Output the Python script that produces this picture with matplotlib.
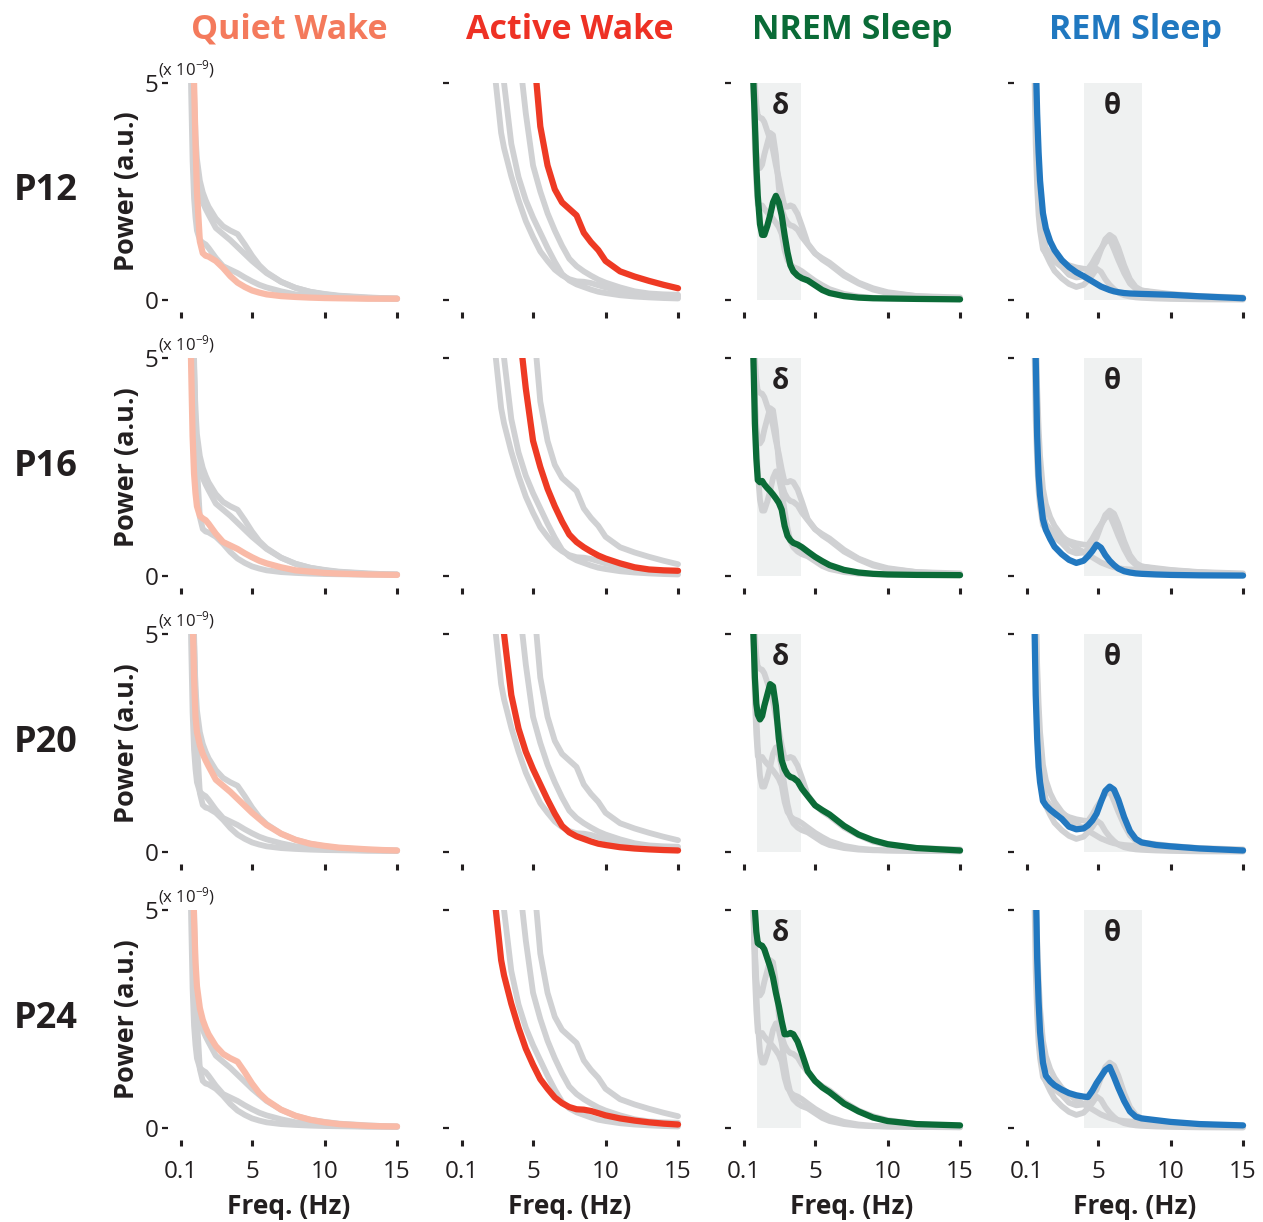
import matplotlib
matplotlib.use('Agg')
import matplotlib.pyplot as plt

plt.rcParams['font.family'] = ['Open Sans', 'DejaVu Sans']
plt.rcParams['mathtext.default'] = 'regular'

# ── data (power, x 10^-9 a.u.) ───────────────────────────────────────────────
ages = ['P12', 'P16', 'P20', 'P24']
states = ['Quiet Wake', 'Active Wake', 'NREM Sleep', 'REM Sleep']
xticks = [0.1, 5, 10, 15]
xticklabels = ['0.1', '5', '10', '15']

freq_qw = [0.7, 0.8, 0.9, 1.0, 1.1, 1.2, 1.4, 1.6, 1.8, 2.0, 2.5, 3.0, 3.5, 4.0,
           4.5, 5.0, 5.5, 6.0, 7.0, 8.0, 9.0, 10, 11, 12, 13, 14, 15]
qw_p12 = [9.0, 7.5, 6.2, 5.0, 3.6, 2.5, 1.35, 1.08, 1.02, 1.0, 0.9, 0.74, 0.55, 0.4,
          0.3, 0.22, 0.17, 0.13, 0.09, 0.07, 0.055, 0.045, 0.04, 0.035, 0.03, 0.03, 0.03]
qw_p16 = [7.0, 4.8, 3.2, 2.35, 1.9, 1.6, 1.38, 1.32, 1.28, 1.2, 0.97, 0.78, 0.7, 0.62,
          0.52, 0.43, 0.35, 0.29, 0.2, 0.13, 0.1, 0.07, 0.055, 0.045, 0.035, 0.03, 0.025]
qw_p20 = [9.0, 7.0, 5.5, 4.0, 3.1, 2.75, 2.45, 2.25, 2.1, 1.97, 1.66, 1.52, 1.38, 1.22,
          1.06, 0.9, 0.76, 0.62, 0.42, 0.28, 0.19, 0.14, 0.1, 0.08, 0.06, 0.045, 0.035]
qw_p24 = [9.5, 8.0, 6.2, 4.8, 3.8, 3.25, 2.75, 2.48, 2.3, 2.15, 1.88, 1.7, 1.6, 1.52,
          1.28, 1.02, 0.8, 0.64, 0.42, 0.28, 0.19, 0.13, 0.09, 0.07, 0.05, 0.04, 0.035]

freq_aw = [2.0, 2.4, 2.8, 3.0, 3.5, 4.0, 4.5, 5.0, 5.5, 6.0, 6.5, 7.0, 7.5, 8.0,
           8.5, 9.0, 9.5, 10, 11, 12, 13, 14, 15]
aw_p12 = [12, 11, 10, 9.5, 8.5, 7.5, 6.6, 5.9, 4.0, 3.1, 2.55, 2.25, 2.1, 1.95,
          1.55, 1.33, 1.15, 0.9, 0.66, 0.54, 0.44, 0.35, 0.27]
aw_p16 = [12, 11, 10, 9.0, 7.5, 5.8, 4.3, 3.1, 2.5, 2.0, 1.6, 1.25, 0.95, 0.78,
          0.66, 0.56, 0.47, 0.4, 0.29, 0.2, 0.15, 0.13, 0.12]
aw_p20 = [11, 8.5, 6.0, 5.0, 3.6, 2.83, 2.3, 1.9, 1.55, 1.2, 0.88, 0.6, 0.45, 0.36,
          0.3, 0.24, 0.19, 0.16, 0.11, 0.08, 0.06, 0.045, 0.035]
aw_p24 = [7.5, 5.1, 3.85, 3.5, 2.85, 2.3, 1.82, 1.45, 1.12, 0.9, 0.7, 0.57, 0.48, 0.43,
          0.42, 0.39, 0.34, 0.29, 0.22, 0.17, 0.13, 0.1, 0.08]

freq_nrem = [0.6, 0.75, 0.85, 0.95, 1.05, 1.2, 1.35, 1.5, 1.7, 1.9, 2.1, 2.3, 2.5, 2.7,
             2.9, 3.1, 3.3, 3.5, 3.8, 4.1, 4.5, 5.0, 5.5, 6.0, 7.0, 8.0, 9.0, 10, 12, 15]
nrem_p12 = [7.0, 5.0, 4.1, 3.1, 2.4, 1.75, 1.5, 1.5, 1.7, 1.95, 2.25, 2.4, 2.25, 1.95,
            1.5, 1.1, 0.8, 0.66, 0.56, 0.5, 0.45, 0.34, 0.23, 0.16, 0.09, 0.055, 0.04, 0.035, 0.025, 0.015]
nrem_p16 = [7.0, 5.0, 3.5, 2.7, 2.2, 2.15, 2.18, 2.1, 2.02, 1.95, 1.87, 1.78, 1.68, 1.52,
            1.15, 0.92, 0.82, 0.76, 0.72, 0.66, 0.56, 0.44, 0.34, 0.25, 0.14, 0.08, 0.05, 0.035, 0.025, 0.02]
nrem_p20 = [7.0, 5.0, 4.0, 3.4, 3.15, 3.04, 3.12, 3.35, 3.6, 3.85, 3.8, 3.35, 2.6, 2.1,
            1.9, 1.78, 1.72, 1.7, 1.62, 1.45, 1.28, 1.07, 0.96, 0.86, 0.6, 0.4, 0.27, 0.18, 0.09, 0.035]
nrem_p24 = [8.0, 6.0, 5.0, 4.5, 4.24, 4.2, 4.18, 4.1, 3.9, 3.7, 3.45, 3.1, 2.8, 2.45,
            2.15, 2.15, 2.18, 2.15, 1.98, 1.7, 1.3, 1.08, 0.93, 0.82, 0.56, 0.38, 0.24, 0.16, 0.09, 0.06]

freq_rem = [0.55, 0.7, 0.8, 0.9, 1.0, 1.2, 1.4, 1.7, 2.0, 2.5, 3.0, 3.5, 4.0, 4.3, 4.6,
            4.9, 5.2, 5.5, 5.8, 6.1, 6.4, 6.8, 7.2, 7.6, 8.0, 9.0, 10, 12, 15]
rem_p12 = [8.0, 5.6, 4.3, 3.4, 2.75, 2.0, 1.65, 1.35, 1.15, 0.92, 0.76, 0.64, 0.55, 0.49, 0.43,
           0.37, 0.31, 0.27, 0.23, 0.2, 0.18, 0.16, 0.15, 0.145, 0.14, 0.13, 0.12, 0.085, 0.04]
rem_p16 = [8.0, 5.0, 3.2, 2.3, 1.85, 1.3, 1.06, 0.85, 0.67, 0.5, 0.37, 0.3, 0.35, 0.45, 0.57,
           0.72, 0.65, 0.48, 0.35, 0.25, 0.17, 0.11, 0.08, 0.06, 0.05, 0.035, 0.025, 0.015, 0.01]
rem_p20 = [6.5, 3.6, 2.6, 1.95, 1.6, 1.17, 1.07, 0.97, 0.89, 0.76, 0.58, 0.52, 0.54, 0.61, 0.72,
           0.88, 1.15, 1.4, 1.5, 1.43, 1.2, 0.8, 0.48, 0.3, 0.22, 0.16, 0.13, 0.08, 0.035]
rem_p24 = [9.0, 5.8, 3.9, 2.9, 2.2, 1.5, 1.2, 1.07, 0.98, 0.88, 0.8, 0.75, 0.72, 0.71, 0.85,
           1.03, 1.18, 1.33, 1.4, 1.17, 0.92, 0.62, 0.38, 0.26, 0.22, 0.18, 0.14, 0.09, 0.06]

freqs = [freq_qw, freq_aw, freq_nrem, freq_rem]
curves = [[qw_p12, qw_p16, qw_p20, qw_p24],
          [aw_p12, aw_p16, aw_p20, aw_p24],
          [nrem_p12, nrem_p16, nrem_p20, nrem_p24],
          [rem_p12, rem_p16, rem_p20, rem_p24]]
bands = [None, None, (1, 4), (4, 8)]
band_names = [None, None, 'δ', 'θ']

# ── style ────────────────────────────────────────────────────────────────────
TITLE_COLORS = ['#F47A5C', '#EE3124', '#0A6B37', '#2078C0']
LINE_COLORS = ['#F9BAA7', '#EE3A24', '#0B6B37', '#2278C0']
GRAY = '#D0D1D3'
BAND = '#EFF1F1'
INK = '#231F20'

W, H = 1263, 1222
X01 = [181, 462, 744, 1027]        # pixel of x = 0.1 per column
PXHZ = 14.5                         # pixels per Hz
Y5 = [83, 358, 634, 910]            # pixel of y = 5 per row
Y0 = [300, 576, 852, 1128]          # pixel of y = 0 per row
XL, XR = -0.3, 15.4
YB, YT = -0.15, 5.0

fig = plt.figure(figsize=(W / 100, H / 100), dpi=100)

for i, age in enumerate(ages):
    pxu = (Y0[i] - Y5[i]) / 5.0
    for j, state in enumerate(states):
        left = X01[j] + (XL - 0.1) * PXHZ
        right = X01[j] + (XR - 0.1) * PXHZ
        top = Y5[i] - (YT - 5) * pxu
        bottom = Y0[i] - YB * pxu
        ax = fig.add_axes([left / W, 1 - bottom / H, (right - left) / W, (bottom - top) / H])
        ax.set_facecolor('none')

        if bands[j]:
            ax.fill_between(bands[j], 0, 5, color=BAND, lw=0, zorder=0)
            ax.text(sum(bands[j]) / 2 + (0.1 if j == 2 else 0.0), 4.45, band_names[j],
                    ha='center', va='center', fontsize=20, fontweight='bold', color=INK)

        for k in range(4):
            if k == i:
                continue
            ax.plot(freqs[j], curves[j][k], color=GRAY, lw=4.2, zorder=2,
                    solid_capstyle='round', solid_joinstyle='round')
        ax.plot(freqs[j], curves[j][i], color=LINE_COLORS[j], lw=4.5, zorder=3,
                solid_capstyle='round', solid_joinstyle='round')

        ax.set_xlim(XL, XR)
        ax.set_ylim(YB, YT)
        ax.set_xticks(xticks)
        ax.set_yticks([0, 5])
        for s in ax.spines.values():
            s.set_color('none')
        ax.spines['left'].set_position(('outward', 5))
        ax.spines['bottom'].set_position(('outward', 4))
        ax.tick_params(axis='x', length=4, width=2.2, color=INK, pad=10,
                       labelsize=17.5, labelcolor=INK)
        ax.tick_params(axis='y', length=4, width=1.6, color=INK, pad=3,
                       labelsize=17.5, labelcolor=INK)
        ax.set_xticklabels(xticklabels if i == 3 else [])
        ax.set_yticklabels(['0', '5'] if j == 0 else [])

    yc = (Y5[i] + Y0[i]) / 2
    fig.text(46 / W, 1 - yc / H, age, ha='center', va='center',
             fontsize=26, fontweight='bold', color=INK)
    fig.text(127 / W, 1 - yc / H, 'Power (a.u.)', ha='center', va='center',
             rotation=90, fontsize=19.5, fontweight='bold', color=INK)
    fig.text(158 / W, 1 - (Y5[i] - 14) / H, '(x 10$^{-9}$)', ha='left', va='center',
             fontsize=12, color=INK)

for j, state in enumerate(states):
    xc = X01[j] + 7.45 * PXHZ
    fig.text(xc / W, 1 - 30 / H, state, ha='center', va='center',
             fontsize=24.5, fontweight='bold', color=TITLE_COLORS[j])
    fig.text(xc / W, 1 - 1207 / H, 'Freq. (Hz)', ha='center', va='center',
             fontsize=19, fontweight='bold', color=INK)

fig.savefig('out.png', dpi=100)
